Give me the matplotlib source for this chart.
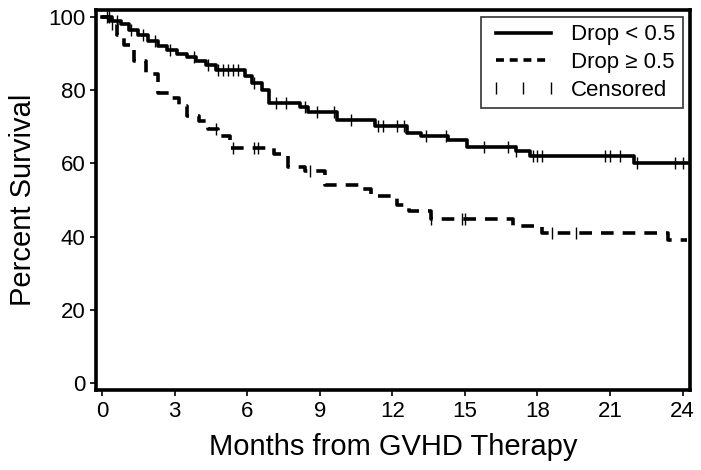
import numpy as np
import matplotlib
matplotlib.use('Agg')
import matplotlib.pyplot as plt
from matplotlib.lines import Line2D

plt.rcParams['font.family'] = ['Liberation Sans', 'DejaVu Sans']

# Drop < 0.5 (solid)
low_t = [0, 0.4, 0.8, 1.1, 1.5, 1.9, 2.3, 2.7, 3.1, 3.5, 3.9, 4.3, 4.7, 5.9, 6.2, 6.6, 6.9,
         8.2, 8.5, 9.7, 11.3, 12.6, 13.2, 14.3, 15.1, 17.1, 17.7, 22.0, 24.2]
low_s = [100, 99, 98, 96.5, 95, 93.5, 92, 91, 90, 89, 88, 87, 85.5, 84, 82, 80, 76.5,
         75.5, 74, 72, 70.3, 68.4, 67.5, 66.5, 64.6, 63.5, 62, 60, 60]
low_cens = [0.3, 0.6, 1.2, 1.7, 2.2, 2.8, 3.8, 4.4, 4.8, 5.0, 5.2, 5.4, 5.6, 6.3, 7.2, 7.6,
            8.4, 8.9, 9.6, 10.3, 11.4, 11.6, 12.2, 12.5, 13.4, 14.2, 15.8, 16.8, 17.1,
            17.8, 18.0, 18.2, 20.8, 21.0, 21.4, 22.1, 23.7, 24.0]

# Drop >= 0.5 (dashed)
high_t = [0, 0.3, 0.6, 0.9, 1.3, 1.8, 2.3, 2.8, 3.2, 3.5, 4.0, 4.4, 4.8, 5.3, 7.1, 7.7,
          8.4, 9.2, 10.7, 11.1, 12.2, 12.7, 13.6, 17.0, 18.2, 23.4, 24.2]
high_s = [100, 98, 95, 92.5, 88, 84.5, 79.3, 78, 75.7, 73, 71.7, 69.5, 67.6, 64.3, 62.7, 59,
          58, 54, 53, 51.2, 48.5, 47, 44.7, 43, 41, 39, 39]
high_cens = [0.2, 0.4, 4.7, 5.4, 6.3, 6.45, 8.6, 13.6, 14.9, 15.0, 18.6, 19.6]

x_ticks = [0, 3, 6, 9, 12, 15, 18, 21, 24]
y_ticks = [0, 20, 40, 60, 80, 100]


def surv_at(times, surv, pts):
    idx = np.searchsorted(times, pts, side='right') - 1
    return np.array(surv)[idx]


fig = plt.figure(figsize=(7.01, 4.70), dpi=100)
ax = fig.add_axes([0.137, 0.170, 0.847, 0.809])

ax.plot(low_t, low_s, drawstyle='steps-post', color='black', lw=2.6)
ax.plot(high_t, high_s, drawstyle='steps-post', color='black', lw=2.6,
        linestyle=(0, (3.5, 2.5)))
ax.plot(low_cens, surv_at(low_t, low_s, low_cens), linestyle='none', marker='|',
        color='black', ms=9, mew=1)
ax.plot(high_cens, surv_at(high_t, high_s, high_cens), linestyle='none', marker='|',
        color='black', ms=9, mew=1)

ax.set_xlim(-0.25, 24.3)
ax.set_ylim(-2, 102)
ax.set_xticks(x_ticks)
ax.set_yticks(y_ticks)
ax.tick_params(labelsize=16, length=4, width=1.2, direction='out')
for sp in ax.spines.values():
    sp.set_linewidth(2.6)

ax.set_xlabel('Months from GVHD Therapy', fontsize=21, labelpad=8)
ax.set_ylabel('Percent Survival', fontsize=21, labelpad=8)

solid_h = Line2D([], [], color='black', lw=2.6)
dash_h = Line2D([], [], color='black', lw=2.6, linestyle=(0, (2.2, 1.6)))
cens_h = Line2D([], [], color='black', lw=0, marker='|', ms=8, mew=1)
leg = ax.legend([solid_h, dash_h, cens_h],
                ['Drop < 0.5', 'Drop ≥ 0.5', 'Censored'],
                loc='upper right', fontsize=16, frameon=True, fancybox=False,
                edgecolor='black', handlelength=3.1, handletextpad=0.6,
                borderaxespad=0.3, labelspacing=0.3, numpoints=3,
                borderpad=0.35)
leg.get_frame().set_linewidth(1.2)

fig.savefig('out.png', dpi=100)
